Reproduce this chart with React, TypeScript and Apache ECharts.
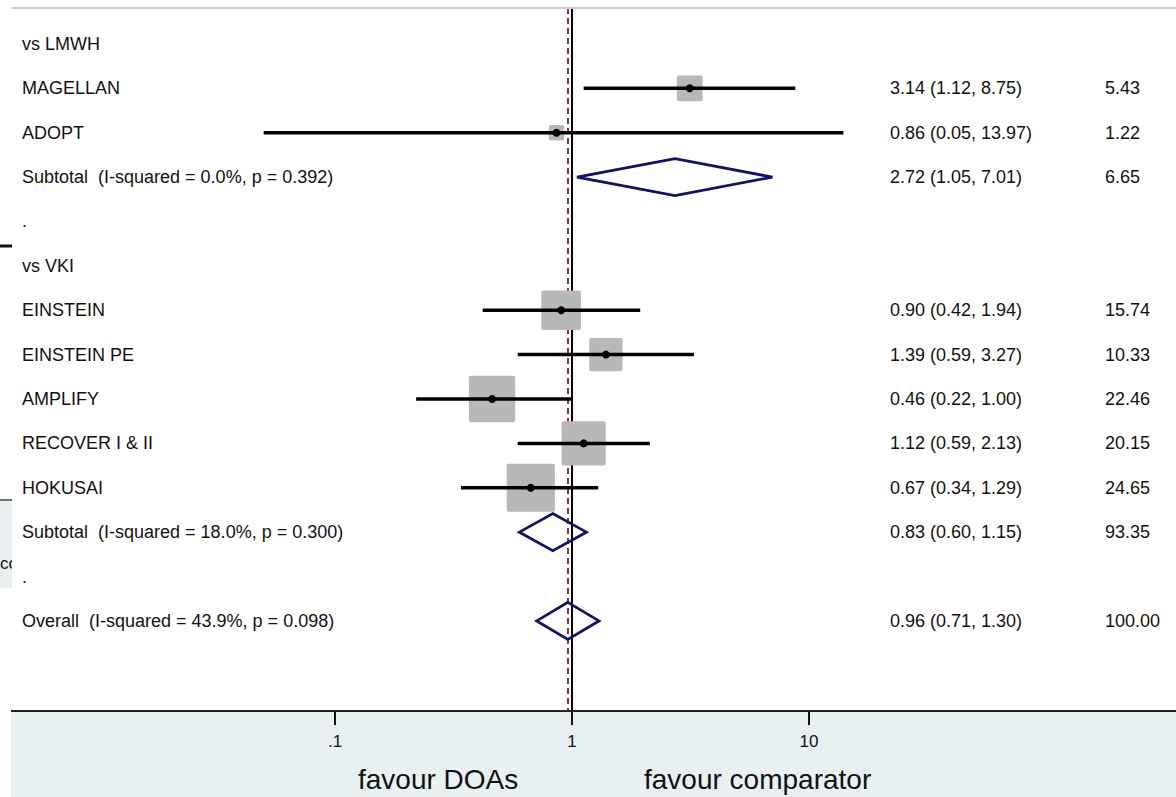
import React, { useEffect, useRef } from "react";
import * as echarts from "echarts";

// ---- data ----
const rowLabels = [
  "vs LMWH",
  "MAGELLAN",
  "ADOPT",
  "Subtotal  (I-squared = 0.0%, p = 0.392)",
  ".",
  "vs VKI",
  "EINSTEIN",
  "EINSTEIN PE",
  "AMPLIFY",
  "RECOVER I & II",
  "HOKUSAI",
  "Subtotal  (I-squared = 18.0%, p = 0.300)",
  ".",
  "Overall  (I-squared = 43.9%, p = 0.098)",
];
const rowKind = [
  "header", "study", "study", "pooled", "blank",
  "header", "study", "study", "study", "study", "study", "pooled", "blank", "pooled",
];
const estimates = [null, 3.14, 0.86, 2.72, null, null, 0.9, 1.39, 0.46, 1.12, 0.67, 0.83, null, 0.96];
const lowerCI = [null, 1.12, 0.05, 1.05, null, null, 0.42, 0.59, 0.22, 0.59, 0.34, 0.6, null, 0.71];
const upperCI = [null, 8.75, 13.97, 7.01, null, null, 1.94, 3.27, 1.0, 2.13, 1.29, 1.15, null, 1.3];
const weights = [null, 5.43, 1.22, 6.65, null, null, 15.74, 10.33, 22.46, 20.15, 24.65, 93.35, null, 100.0];
const nullValue = 1;
const overallEstimate = 0.96;
const tickLabels: Record<string, string> = { "0.1": ".1", "1": "1", "10": "10" };
const favourLeft = "favour DOAs";
const favourRight = "favour comparator";

const FONT = "'Liberation Sans', Arial, Helvetica, sans-serif";

export default function App() {
  const ref = useRef<HTMLDivElement>(null);
  useEffect(() => {
    if (!ref.current) return;
    const chart = echarts.init(ref.current, null, { renderer: "svg" });

    const markData: any[] = [];
    const labelData: any[] = [];
    rowLabels.forEach((lab, i) => {
      const est = estimates[i];
      labelData.push([nullValue, i, lab, est == null ? "" : `${est.toFixed(2)} (${(lowerCI[i] as number).toFixed(2)}, ${(upperCI[i] as number).toFixed(2)})`, weights[i] == null ? "" : (weights[i] as number).toFixed(2)]);
      if (est != null) {
        markData.push([est, i, lowerCI[i], upperCI[i], weights[i], rowKind[i] === "pooled" ? 1 : 0]);
      }
    });

    const textStyle = (text: string, x: number, y: number) => ({
      text,
      x,
      y,
      fill: "#111",
      fontSize: 18,
      fontFamily: FONT,
      align: "left",
      verticalAlign: "middle",
      textAlign: "left",
      textVerticalAlign: "middle",
    });

    const option: any = {
      animation: false,
      backgroundColor: "#ffffff",
      grid: { left: 335, right: 367, top: 8, bottom: 86, containLabel: false },
      xAxis: {
        type: "log",
        logBase: 10,
        min: 0.1,
        max: 10,
        position: "bottom",
        axisLine: { show: false, onZero: false },
        axisTick: { show: true, length: 14, lineStyle: { color: "#111", width: 2 } },
        axisLabel: {
          margin: 22,
          fontSize: 17,
          fontFamily: FONT,
          color: "#111",
          formatter: (v: number) => {
            const k = String(Math.round(Math.log10(v)) === -1 ? 0.1 : Math.round(v));
            return tickLabels[k] ?? k;
          },
        },
        splitLine: { show: false },
        minorTick: { show: false },
      },
      yAxis: {
        type: "value",
        inverse: true,
        min: -0.81,
        max: 15.03,
        show: false,
        splitLine: { show: false },
      },
      graphic: [
        { type: "rect", z: -5, shape: { x: 11, y: 712, width: 1165, height: 85 }, style: { fill: "#e8f0f2" } },
        { type: "line", z: 5, shape: { x1: 11, y1: 711, x2: 1176, y2: 711 }, style: { stroke: "#222", lineWidth: 2 } },
        { type: "line", z: 5, shape: { x1: 12, y1: 8, x2: 1176, y2: 8 }, style: { stroke: "#cccccc", lineWidth: 2 } },
        { type: "text", z: 5, style: { text: favourLeft, x: 358, y: 779, fontSize: 28, fontFamily: FONT, fill: "#111", verticalAlign: "middle", align: "left" } },
        { type: "text", z: 5, style: { text: favourRight, x: 644, y: 779, fontSize: 28, fontFamily: FONT, fill: "#111", verticalAlign: "middle", align: "left" } },
        // left-edge cropped artifacts
        { type: "line", shape: { x1: 0, y1: 246, x2: 12, y2: 246 }, style: { stroke: "#111", lineWidth: 3 } },
        { type: "rect", z: -5, shape: { x: 0, y: 501, width: 12, height: 87 }, style: { fill: "#e8f0f2" } },
        { type: "line", shape: { x1: 0, y1: 500, x2: 12, y2: 500 }, style: { stroke: "#444", lineWidth: 1.5 } },
        { type: "text", z: 1, style: { text: "co", x: 0, y: 563, fontSize: 17, fontFamily: FONT, fill: "#111", verticalAlign: "middle", align: "left" } },
        { type: "rect", z: 2, shape: { x: 12, y: 552, width: 8, height: 22 }, style: { fill: "#ffffff" } },
      ],
      series: [
        {
          type: "custom",
          name: "marks",
          coordinateSystem: "cartesian2d",
          clip: false,
          z: 3,
          data: markData,
          encode: { x: 0, y: 1 },
          renderItem: (params: any, api: any) => {
            const est = api.value(0);
            const row = api.value(1);
            const lo = api.value(2);
            const hi = api.value(3);
            const w = api.value(4);
            const pooled = api.value(5) === 1;
            const c = api.coord([est, row]);
            const l = api.coord([lo, row]);
            const h = api.coord([hi, row]);
            if (pooled) {
              const hh = 18.5;
              return {
                type: "polygon",
                shape: { points: [[l[0], c[1]], [c[0], c[1] - hh], [h[0], c[1]], [c[0], c[1] + hh]] },
                style: { fill: "none", stroke: "#10106e", lineWidth: 2.8, lineJoin: "miter" },
              };
            }
            const side = 6 + 8.5 * Math.sqrt(w);
            return {
              type: "group",
              children: [
                {
                  type: "rect",
                  shape: { x: c[0] - side / 2, y: c[1] - side / 2, width: side, height: side, r: 2 },
                  style: { fill: "#b8b8b8" },
                },
                {
                  type: "line",
                  shape: { x1: l[0], y1: c[1], x2: h[0], y2: c[1] },
                  style: { stroke: "#000", lineWidth: 3.5 },
                },
                {
                  type: "circle",
                  shape: { cx: c[0], cy: c[1], r: 4 },
                  style: { fill: "#000" },
                },
              ],
            };
          },
          markLine: {
            silent: true,
            symbol: ["none", "none"],
            label: { show: false },
            z: 2,
            data: [
              { xAxis: nullValue, lineStyle: { color: "#000", width: 2, type: "solid" } },
              { xAxis: overallEstimate, lineStyle: { color: "#9e2a3a", width: 2, type: [6, 4] } },
            ],
          },
        },
        {
          type: "custom",
          name: "labels",
          coordinateSystem: "cartesian2d",
          clip: false,
          z: 4,
          data: labelData,
          encode: { x: 0, y: 1 },
          renderItem: (params: any, api: any) => {
            const row = api.value(1);
            const d = labelData[params.dataIndex];
            const p = api.coord([nullValue, row]);
            const children: any[] = [{ type: "text", style: textStyle(d[2], 22, p[1]) }];
            if (d[3]) children.push({ type: "text", style: textStyle(d[3], 890, p[1]) });
            if (d[4]) children.push({ type: "text", style: textStyle(d[4], 1105, p[1]) });
            return { type: "group", children };
          },
        },
      ],
    };
    chart.setOption(option);
    return () => chart.dispose();
  }, []);
  return (
    <div
      ref={ref}
      style={{ position: "absolute", left: 0, top: 0, width: 1176, height: 797, background: "#fff" }}
    />
  );
}
